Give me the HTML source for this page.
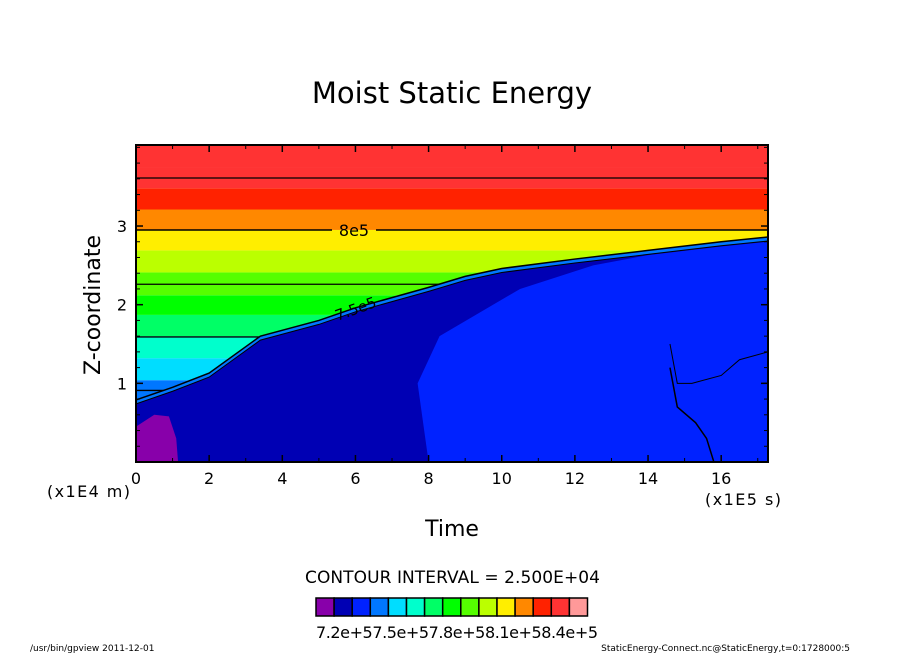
<!DOCTYPE html>
<html><head><meta charset="utf-8"><style>
body{margin:0;background:#fff;width:904px;height:654px;overflow:hidden}
svg text{font-family:"DejaVu Sans","Liberation Sans",sans-serif}
</style></head><body>
<svg id="chart" width="904" height="654" viewBox="0 0 904 654">
<defs><clipPath id="plotclip"><rect x="136" y="145" width="632" height="317"/></clipPath></defs>
<text x="452" y="103" font-size="29" text-anchor="middle">Moist Static Energy</text>
<g id="plot" clip-path="url(#plotclip)"></g>
<rect x="136" y="145" width="632" height="317" fill="none" stroke="#000" stroke-width="2"/>
<g id="axes"></g>
<text x="100" y="305" font-size="22" text-anchor="middle" transform="rotate(-90 100 305)">Z-coordinate</text>
<text x="452" y="536" font-size="22" text-anchor="middle">Time</text>
<text x="47" y="497" font-size="16" textLength="83">(x1E4 m)</text>
<text x="705" y="505" font-size="16" textLength="76">(x1E5 s)</text>
<text x="305" y="583" font-size="17" textLength="295">CONTOUR INTERVAL = 2.500E+04</text>
<g id="colorbar"></g>
<text x="316" y="638" font-size="16" textLength="282">7.2e+57.5e+57.8e+58.1e+58.4e+5</text>
<text x="30" y="651" font-size="9">/usr/bin/gpview   2011-12-01</text>
<text x="850" y="651" font-size="9" text-anchor="end">StaticEnergy-Connect.nc@StaticEnergy,t=0:1728000:5</text>
</svg>
<script>
const xTicks=[0,2,4,6,8,10,12,14,16];
const yTicks=[1,2,3];
const levelColors=["#8800aa","#0000b4","#0022ff","#0077ff","#00ddff","#00ffcc","#00ff66","#00ff00","#55ff00","#bbff00","#ffee00","#ff8800","#ff2200","#ff3333","#ff9999"];
const bandTops=[0.79,1.04,1.32,1.6,1.87,2.12,2.41,2.69,2.95,3.21,3.48,3.75,4.1];
const bandColorIdx=[2,3,4,5,6,7,8,9,10,11,12,13,13];
const bndT=[0,1,2,3.4,5,6,8,9,10,12,14,16,17.28];
const bndZ=[0.79,0.95,1.13,1.6,1.8,1.96,2.22,2.36,2.46,2.58,2.69,2.8,2.86];
const contourZ=[0.91,1.59,2.26,2.95,3.61];
const splitT=[8.0,7.7,8.3,10.5,12.5,14,16,17.28];
const splitZ=[0,1.0,1.6,2.2,2.5,2.63,2.74,2.8];
const NS="http://www.w3.org/2000/svg";
const X0=136,X1=768,Y0=462,Y1=145,TMAX=17.28,ZMAX=4.03;
const sx=t=>X0+(X1-X0)*t/TMAX, sy=z=>Y0-(Y0-Y1)*z/ZMAX;
function el(tag,attrs,parent){const e=document.createElementNS(NS,tag);for(const k in attrs)e.setAttribute(k,attrs[k]);parent.appendChild(e);return e;}
const plot=document.getElementById('plot');
let prev=0;
bandTops.forEach((zt,i)=>{
 const r=el('rect',{x:X0,y:sy(zt),width:X1-X0,height:sy(prev)-sy(zt),fill:levelColors[bandColorIdx[i]]},plot);
 
 
 prev=zt;});
let pts=bndT.map((t,i)=>sx(t)+','+sy(bndZ[i])).join(' ');
const lowLight=el('polygon',{points:sx(0)+','+Y0+' '+pts+' '+X1+','+Y0,fill:"#0077ff"},plot);


let pts2=bndT.map((t,i)=>sx(t)+','+(sy(bndZ[i])+4)).join(' ');
const low=el('polygon',{points:sx(0)+','+Y0+' '+pts2+' '+X1+','+Y0,fill:"#0000b4"},plot);


let rp=splitT.map((t,i)=>sx(t)+','+(sy(splitZ[i]))).join(' ');
const right=el('polygon',{points:rp+' '+X1+','+Y0,fill:"#0022ff"},plot);


const pur=el('polygon',{points:`${sx(0)},${Y0} ${sx(0)},${sy(0.45)} ${sx(0.5)},${sy(0.6)} ${sx(0.9)},${sy(0.58)} ${sx(1.1)},${sy(0.3)} ${sx(1.15)},${Y0}`,fill:"#8800aa"},plot);


contourZ.forEach((z,i)=>{
 let xe=X1;for(let k=0;k<bndT.length-1;k++){if(bndZ[k]<=z&&bndZ[k+1]>z){xe=sx(bndT[k]+(z-bndZ[k])/(bndZ[k+1]-bndZ[k])*(bndT[k+1]-bndT[k]));}}
 if(i===3){
  const a=el('line',{x1:X0,y1:sy(z),x2:332,y2:sy(z),stroke:"#000","stroke-width":1.5},plot);
  
  
  const b=el('line',{x1:376,y1:sy(z),x2:xe,y2:sy(z),stroke:"#000","stroke-width":1.5},plot);
  
  
 } else {
 const l=el('line',{x1:X0,y1:sy(z),x2:xe,y2:sy(z),stroke:"#000","stroke-width":1.3},plot);
 
 }});
const bl=el('polyline',{points:pts,fill:"none",stroke:"#000","stroke-width":1.5},plot);


const bl2=el('polyline',{points:pts2,fill:"none",stroke:"#000","stroke-width":1},plot);


const rc=el('polyline',{points:`${sx(14.6)},${sy(1.5)} ${sx(14.8)},${sy(1.0)} ${sx(15.2)},${sy(1.0)} ${sx(16)},${sy(1.1)} ${sx(16.5)},${sy(1.3)} ${X1},${sy(1.4)}`,fill:"none",stroke:"#000","stroke-width":1},plot);


const rc2=el('polyline',{points:`${sx(14.6)},${sy(1.2)} ${sx(14.8)},${sy(0.7)} ${sx(15.3)},${sy(0.5)} ${sx(15.6)},${sy(0.3)} ${sx(15.8)},${Y0}`,fill:"none",stroke:"#000","stroke-width":1.5},plot);


const t1=el('text',{x:354,y:sy(2.95)+6,"font-size":16,"text-anchor":"middle"},plot);t1.textContent="8e5";


const t2=el('text',{x:333,y:314,"font-size":15,transform:"rotate(-20 355 305)"},plot);t2.textContent="7.5e5";


const axes=document.getElementById('axes');
for(let t=1;t<TMAX;t+=2){
 const m=el('line',{x1:sx(t),y1:Y0,x2:sx(t),y2:Y0-4,stroke:"#000","stroke-width":1},axes);
 
 const m2=el('line',{x1:sx(t),y1:Y1,x2:sx(t),y2:Y1+4,stroke:"#000","stroke-width":1},axes);
 }
for(let k=1;k*0.2<ZMAX;k++){const z=k*0.2;
 const m=el('line',{x1:X0,y1:sy(z),x2:X0+4,y2:sy(z),stroke:"#000","stroke-width":1},axes);
 
 const m2=el('line',{x1:X1,y1:sy(z),x2:X1-4,y2:sy(z),stroke:"#000","stroke-width":1},axes);
 }
xTicks.forEach(t=>{
 const a=el('line',{x1:sx(t),y1:Y0,x2:sx(t),y2:Y0-7,stroke:"#000","stroke-width":1.5},axes);
 
 const b=el('line',{x1:sx(t),y1:Y1,x2:sx(t),y2:Y1+7,stroke:"#000","stroke-width":1.5},axes);
 
 const tx=el('text',{x:sx(t),y:484,"font-size":16,"text-anchor":"middle"},axes);tx.textContent=t;
 });
yTicks.forEach(z=>{
 const a=el('line',{x1:X0,y1:sy(z),x2:X0+7,y2:sy(z),stroke:"#000","stroke-width":1.5},axes);
 
 const b=el('line',{x1:X1,y1:sy(z),x2:X1-7,y2:sy(z),stroke:"#000","stroke-width":1.5},axes);
 
 const tx=el('text',{x:127,y:sy(z)+6,"font-size":16,"text-anchor":"end"},axes);tx.textContent=z;
 });
const cb=document.getElementById('colorbar');
levelColors.forEach((c,i)=>{
 const r=el('rect',{x:316+i*18.1,y:598,width:18.1,height:18,fill:c,stroke:"#000","stroke-width":1.5},cb);
 
 });
</script>
</body></html>
